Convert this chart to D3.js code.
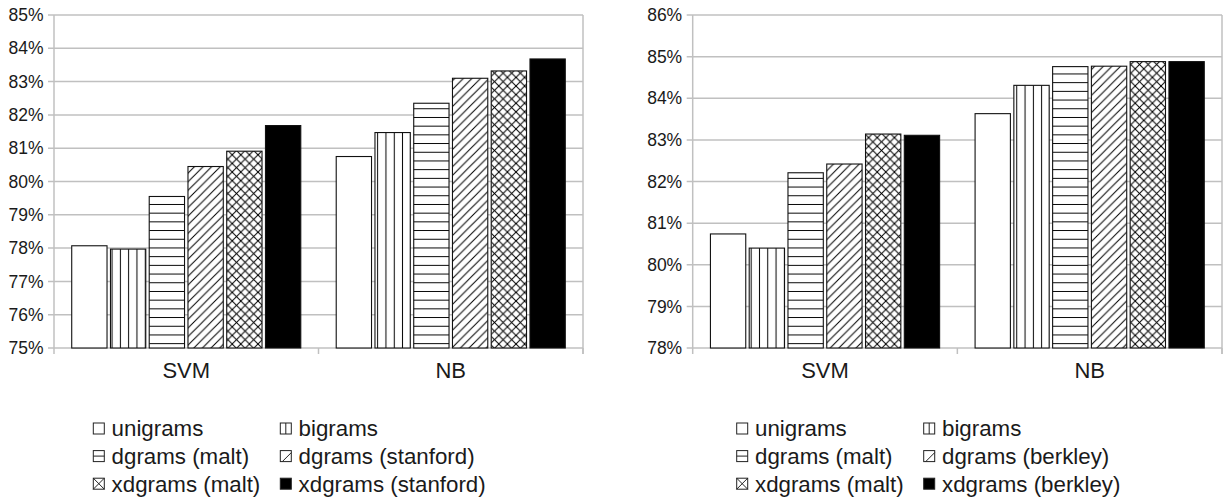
<!DOCTYPE html>
<html><head><meta charset="utf-8">
<script src="https://cdn.jsdelivr.net/npm/d3@7"></script>
<style>
body{margin:0;background:#fff}
svg text{font-family:"Liberation Sans",Arial,Helvetica,sans-serif;fill:#1a1a1a}
</style>
</head><body>
<svg id="c" width="1223" height="503"></svg>
<script>
// ---- data ----
const categories = ["SVM", "NB"];
const seriesLeft = ["unigrams", "bigrams", "dgrams (malt)", "dgrams (stanford)", "xdgrams (malt)", "xdgrams (stanford)"];
const seriesRight = ["unigrams", "bigrams", "dgrams (malt)", "dgrams (berkley)", "xdgrams (malt)", "xdgrams (berkley)"];
const leftSVM = [78.07, 77.97, 79.55, 80.45, 80.91, 81.68];
const leftNB = [80.75, 81.47, 82.35, 83.10, 83.32, 83.68];
const rightSVM = [80.74, 80.40, 82.21, 82.42, 83.14, 83.11];
const rightNB = [83.63, 84.31, 84.76, 84.77, 84.88, 84.88];
const leftTicks = [75, 76, 77, 78, 79, 80, 81, 82, 83, 84, 85];
const rightTicks = [78, 79, 80, 81, 82, 83, 84, 85, 86];
const fills = ["plain", "vlines", "hlines", "diag", "cross", "solid"];

const svg = d3.select("#c");
const defs = svg.append("defs");
const T = 8.6;
function pat(id, w, h, draw) {
  const p = defs.append("pattern").attr("id", id).attr("patternUnits", "userSpaceOnUse")
    .attr("width", w).attr("height", h);
  p.append("rect").attr("width", w).attr("height", h).attr("fill", "#fff");
  draw(p);
}
const ln = (p, x1, y1, x2, y2) => p.append("line").attr("x1", x1).attr("y1", y1).attr("x2", x2).attr("y2", y2)
  .attr("stroke", "#000").attr("stroke-width", 1);
pat("p-vlines", 8.3, 8.3, p => ln(p, 4.15, 0, 4.15, 8.3));
pat("p-hlines", 8.7, 8.7, p => ln(p, 0, 4.35, 8.7, 4.35));
pat("p-diag", T, T, p => { ln(p, 0, T, T, 0); ln(p, -1, 1, 1, -1); ln(p, T - 1, T + 1, T + 1, T - 1); });
pat("p-cross", T, T, p => {
  ln(p, 0, T, T, 0); ln(p, -1, 1, 1, -1); ln(p, T - 1, T + 1, T + 1, T - 1);
  ln(p, 0, 0, T, T); ln(p, -1, T - 1, 1, T + 1); ln(p, T - 1, -1, T + 1, 1);
});
const fillOf = f => f === "plain" ? "#fff" : f === "solid" ? "#000" : `url(#p-${f})`;

function chart(cfg) {
  const g = svg.append("g");
  const y = d3.scaleLinear().domain([cfg.ticks[0], cfg.ticks[cfg.ticks.length - 1]]).range([348, 15]);
  const x = d3.scaleBand().domain(categories).range([cfg.x0, cfg.x1]).paddingInner(0).paddingOuter(0);
  const bw = x.bandwidth();
  const pad = bw * 0.067;
  const xs = d3.scaleBand().domain(d3.range(cfg.series.length)).range([pad, bw - pad]).paddingInner(0.089).paddingOuter(0);

  // gridlines
  g.append("g").selectAll("line").data(cfg.ticks).join("line")
    .attr("x1", cfg.x0 - 6).attr("x2", cfg.x1).attr("y1", d => y(d)).attr("y2", d => y(d))
    .attr("stroke", "#c0c0c0").attr("stroke-width", 1.5);
  // axis frame
  const fr = g.append("g").attr("stroke", "#c0c0c0").attr("stroke-width", 1.5);
  fr.append("line").attr("x1", cfg.x0).attr("x2", cfg.x0).attr("y1", y.range()[1]).attr("y2", y.range()[0]);
  fr.append("line").attr("x1", cfg.x1).attr("x2", cfg.x1).attr("y1", y.range()[1]).attr("y2", y.range()[0] + 6);
  const bounds = categories.map(c => x(c)).concat([cfg.x1]);
  fr.selectAll("line.tk").data(bounds).join("line").attr("class", "tk")
    .attr("x1", d => d).attr("x2", d => d).attr("y1", y.range()[0]).attr("y2", y.range()[0] + 6);

  // y labels
  g.append("g").selectAll("text").data(cfg.ticks).join("text")
    .attr("x", cfg.x0 - 10.5).attr("y", d => y(d)).attr("dy", "0.35em")
    .attr("text-anchor", "end").attr("font-size", 17.5).text(d => d + "%");

  // bars
  categories.forEach((c, ci) => {
    const vals = cfg.values[ci];
    g.append("g").selectAll("rect").data(vals).join("rect")
      .attr("x", (d, i) => x(c) + xs(i)).attr("width", xs.bandwidth())
      .attr("y", d => y(d)).attr("height", d => y.range()[0] - y(d))
      .attr("fill", (d, i) => fillOf(fills[i]))
      .attr("stroke", "#111").attr("stroke-width", 1.1);
  });

  // category labels
  g.append("g").selectAll("text").data(categories).join("text")
    .attr("x", c => x(c) + bw / 2).attr("y", 378).attr("text-anchor", "middle")
    .attr("font-size", 22).text(c => c);

  // legend
  const lg = g.append("g");
  cfg.series.forEach((s, i) => {
    const col = i % 2, row = Math.floor(i / 2);
    const mx = cfg.legendX + col * 187, cy = 428.5 + row * 27.6;
    const m = lg.append("g").attr("transform", `translate(${mx},${cy - 5.5})`);
    m.append("rect").attr("width", 11).attr("height", 11)
      .attr("fill", fills[i] === "solid" ? "#000" : "#fff").attr("stroke", "#222").attr("stroke-width", 1);
    const ml = (x1, y1, x2, y2) => m.append("line").attr("x1", x1).attr("y1", y1).attr("x2", x2).attr("y2", y2)
      .attr("stroke", "#222").attr("stroke-width", 1);
    if (fills[i] === "vlines") ml(5.5, 0, 5.5, 11);
    if (fills[i] === "hlines") ml(0, 5.5, 11, 5.5);
    if (fills[i] === "diag") ml(2, 11, 11, 2);
    if (fills[i] === "cross") { ml(0, 0, 11, 11); ml(0, 11, 11, 0); }
    lg.append("text").attr("x", mx + 18.3).attr("y", cy).attr("dy", "0.35em")
      .attr("font-size", 22.3).text(s);
  });
}

chart({ x0: 54, x1: 583, ticks: leftTicks, series: seriesLeft, values: [leftSVM, leftNB], legendX: 93.3 });
chart({ x0: 692.7, x1: 1222, ticks: rightTicks, series: seriesRight, values: [rightSVM, rightNB], legendX: 736.7 });
</script>
</body></html>
